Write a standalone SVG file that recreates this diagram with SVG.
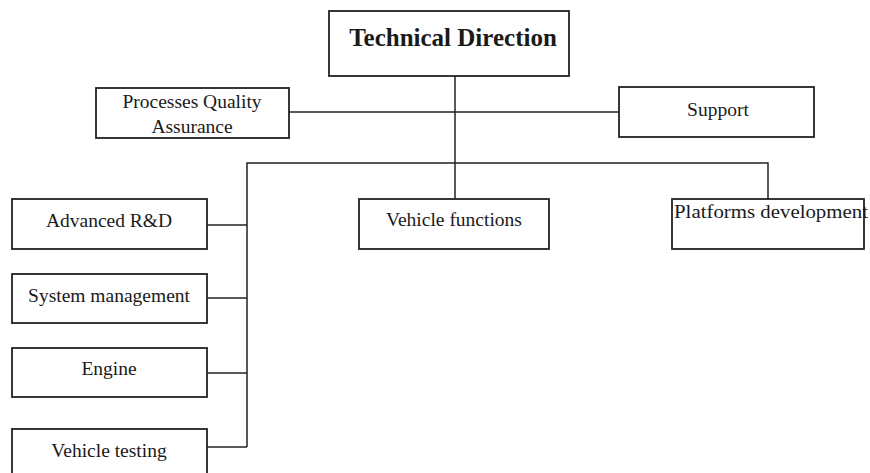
<svg xmlns="http://www.w3.org/2000/svg" width="870" height="473" viewBox="0 0 870 473">
<style>
.box{fill:#fff;stroke:#222;stroke-width:1.8}
.ln{fill:none;stroke:#222;stroke-width:1.5}
text{font-family:"Liberation Serif","Times New Roman",serif;font-size:19.5px;fill:#1a1a1a;text-anchor:middle}
.title{font-weight:bold;font-size:25px}
</style>
<rect width="870" height="473" fill="#fff"/>
<g id="connectors">
<line class="ln" x1="455" y1="76" x2="455" y2="199"/>
<line class="ln" x1="289" y1="112" x2="619" y2="112"/>
<polyline class="ln" points="247,447 247,163 768,163 768,199"/>
<line class="ln" x1="207" y1="225" x2="247" y2="225"/>
<line class="ln" x1="207" y1="298" x2="247" y2="298"/>
<line class="ln" x1="207" y1="373" x2="247" y2="373"/>
<line class="ln" x1="207" y1="447" x2="247" y2="447"/>
</g>
<g id="technical-direction">
<rect class="box" x="329" y="11" width="240" height="65"/>
<text class="title" x="453" y="46">Technical Direction</text>
</g>
<g id="processes-qa">
<rect class="box" x="96" y="88" width="193" height="50"/>
<text x="192" y="108">Processes Quality</text>
<text x="192" y="133">Assurance</text>
</g>
<g id="support">
<rect class="box" x="619" y="87" width="195" height="50"/>
<text x="718" y="116">Support</text>
</g>
<g id="vehicle-functions">
<rect class="box" x="359" y="199" width="190" height="50"/>
<text x="454" y="226">Vehicle functions</text>
</g>
<g id="platforms-development">
<rect class="box" x="672" y="199" width="192" height="50"/>
<text x="674" y="218" style="text-anchor:start" textLength="194" lengthAdjust="spacingAndGlyphs">Platforms development</text>
</g>
<g id="advanced-rd">
<rect class="box" x="12" y="199" width="195" height="50"/>
<text x="109" y="227">Advanced R&amp;D</text>
</g>
<g id="system-management">
<rect class="box" x="12" y="274" width="195" height="49"/>
<text x="109" y="302">System management</text>
</g>
<g id="engine">
<rect class="box" x="12" y="348" width="195" height="49"/>
<text x="109" y="375">Engine</text>
</g>
<g id="vehicle-testing">
<rect class="box" x="12" y="429" width="195" height="60"/>
<text x="109" y="457">Vehicle testing</text>
</g>
</svg>
